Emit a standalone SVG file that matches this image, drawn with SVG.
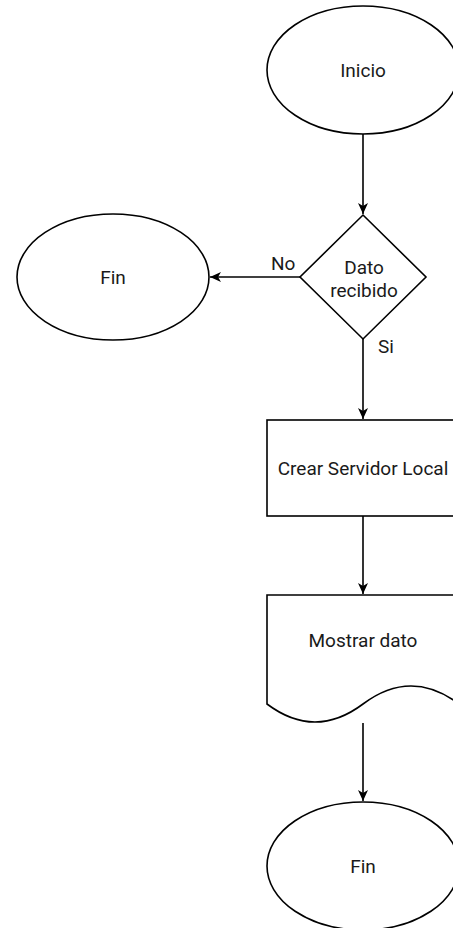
<svg xmlns="http://www.w3.org/2000/svg" width="453" height="928" viewBox="0 0 453 928">
  <defs>
    <marker id="arr" markerUnits="userSpaceOnUse" markerWidth="12" markerHeight="10" refX="11" refY="5" orient="auto">
      <path d="M0,0 L11,5 L0,10 L3,5 Z" fill="#000"/>
    </marker>
  </defs>
  <style>
    .shape { fill: #fff; stroke: #000; stroke-width: 1.6; }
    .edge { fill: none; stroke: #000; stroke-width: 1.6; marker-end: url(#arr); }
    .lbl { font-family: Roboto, "Liberation Sans", Arial, sans-serif; font-size: 19px; fill: #1a1a1a; text-anchor: middle; }
    .elbl { font-family: Roboto, "Liberation Sans", Arial, sans-serif; font-size: 19px; fill: #1a1a1a; }
  </style>
  <rect width="453" height="928" fill="#fff"/>
  <g id="connectors">
    <line class="edge" x1="363" y1="134" x2="363" y2="214"/>
    <line class="edge" x1="300" y1="277" x2="210" y2="277"/>
    <line class="edge" x1="363" y1="339" x2="363" y2="419"/>
    <line class="edge" x1="363" y1="516" x2="363" y2="594"/>
    <line class="edge" x1="363" y1="723" x2="363" y2="801"/>
    <text class="elbl" x="271" y="270">No</text>
    <text class="elbl" x="378" y="353">Si</text>
  </g>
  <g id="inicio">
    <ellipse class="shape" cx="363" cy="70" rx="96" ry="64"/>
    <text class="lbl" x="363" y="77">Inicio</text>
  </g>
  <g id="decision">
    <polygon class="shape" points="363,215 426,277 363,339 300,277"/>
    <text class="lbl" x="364" y="274">Dato</text>
    <text class="lbl" x="364" y="297">recibido</text>
  </g>
  <g id="fin-no">
    <ellipse class="shape" cx="113" cy="277" rx="96" ry="63"/>
    <text class="lbl" x="113" y="284">Fin</text>
  </g>
  <g id="servidor">
    <rect class="shape" x="267" y="420" width="192" height="96"/>
    <text class="lbl" x="363" y="475">Crear Servidor Local</text>
  </g>
  <g id="mostrar">
    <path class="shape" d="M267,595 H459 V704 C427,680 395,680 363,704 C331,728 299,728 267,704 Z"/>
    <text class="lbl" x="363" y="647">Mostrar dato</text>
  </g>
  <g id="fin">
    <ellipse class="shape" cx="363" cy="866" rx="96" ry="64"/>
    <text class="lbl" x="363" y="873">Fin</text>
  </g>
</svg>
